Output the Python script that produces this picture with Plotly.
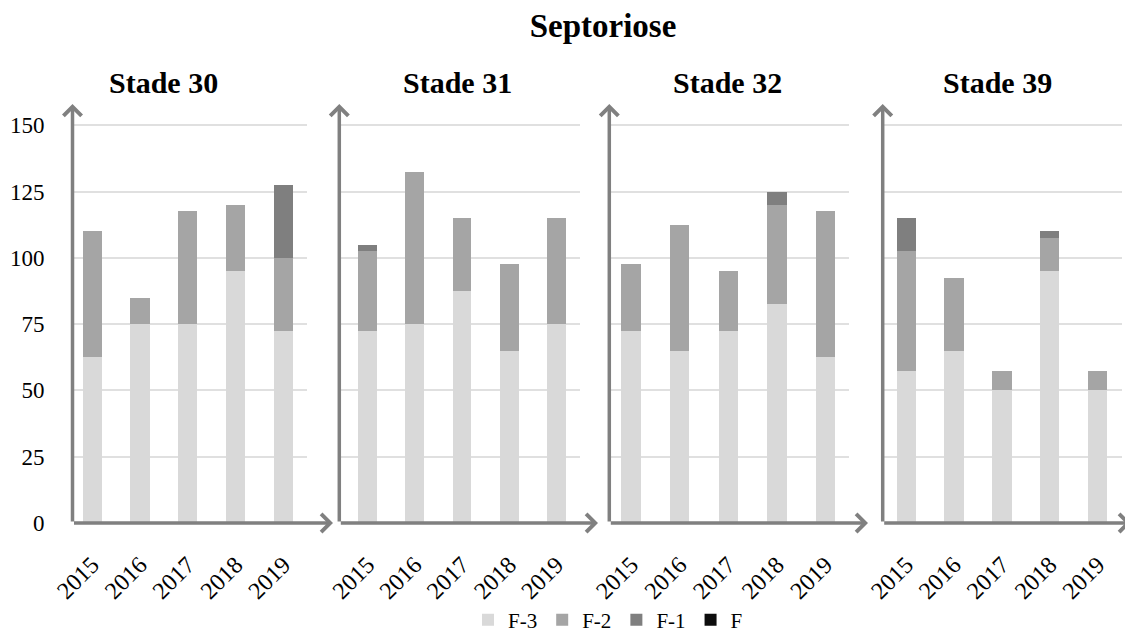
import plotly.graph_objects as go
from plotly.subplots import make_subplots

years = ["2015", "2016", "2017", "2018", "2019"]
stades = ["Stade 30", "Stade 31", "Stade 32", "Stade 39"]
series = ["F-3", "F-2", "F-1", "F"]

# valeurs par stade (empilées)
f3 = {
    "Stade 30": [62.5, 75, 75, 95, 72.5],
    "Stade 31": [72.5, 75, 87.5, 65, 75],
    "Stade 32": [72.5, 65, 72.5, 82.5, 62.5],
    "Stade 39": [57.5, 65, 50, 95, 50],
}
f2 = {
    "Stade 30": [47.5, 10, 42.5, 25, 27.5],
    "Stade 31": [30, 57.5, 27.5, 32.5, 40],
    "Stade 32": [25, 47.5, 22.5, 37.5, 55],
    "Stade 39": [45, 27.5, 7.5, 12.5, 7.5],
}
f1 = {
    "Stade 30": [0, 0, 0, 0, 27.5],
    "Stade 31": [2.5, 0, 0, 0, 0],
    "Stade 32": [0, 0, 0, 5, 0],
    "Stade 39": [12.5, 0, 0, 2.5, 0],
}
f0 = {
    "Stade 30": [0, 0, 0, 0, 0],
    "Stade 31": [0, 0, 0, 0, 0],
    "Stade 32": [0, 0, 0, 0, 0],
    "Stade 39": [0, 0, 0, 0, 0],
}
data = {"F-3": f3, "F-2": f2, "F-1": f1, "F": f0}
colors = {"F-3": "#d9d9d9", "F-2": "#a5a5a5", "F-1": "#7f7f7f", "F": "#0d0d0d"}

# la page html ajoute une marge de 8 px autour du graphique
OFF = 8
W, H = 1133 - OFF, 636 - OFF
TOP, BOT = 104 - OFF, 523 - OFF
FONT = "Liberation Serif, Times New Roman, serif"
AXCOL = "#808080"

# panneaux : bords du domaine (px), plage x, pointe de la flèche x (px), centre du titre (px)
panels = [
    (72.5, 307.4, -0.41, 4.5, 333, 163),
    (339.3, 580.0, -0.60, 4.5, 598, 457),
    (609.3, 849.3, -0.45, 4.49, 868, 727),
    (882.7, 1121.7, -0.49, 4.5, 1131, 997),
]

fig = make_subplots(rows=1, cols=4)

for i, st in enumerate(stades):
    for s in series:
        fig.add_trace(
            go.Bar(
                x=years,
                y=data[s][st],
                name=s,
                marker=dict(color=colors[s], line=dict(width=0)),
                showlegend=(i == 0),
                legendgroup=s,
            ),
            row=1,
            col=i + 1,
        )

fig.update_layout(
    barmode="stack",
    bargap=0.6,
    width=W,
    height=H,
    template="none",
    plot_bgcolor="white",
    paper_bgcolor="white",
    margin=dict(l=0, r=0, t=TOP, b=H - BOT, autoexpand=False),
    font=dict(family=FONT, size=23, color="black"),
    title=dict(
        text="<b>Septoriose</b>",
        x=(603 - OFF) / W,
        xanchor="center",
        y=1 - (25 - OFF) / H,
        yanchor="middle",
        font=dict(family=FONT, size=33, color="black"),
    ),
    legend=dict(
        orientation="h",
        x=(608 - OFF) / W,
        xanchor="center",
        yref="container",
        y=1 - (620 - OFF) / H,
        yanchor="middle",
        font=dict(family=FONT, size=21),
        itemwidth=30,
        traceorder="normal",
    ),
)

annotations = []
for i, (d0, d1, r0, r1, tip, tcx) in enumerate(panels):
    d0, d1, tip, tcx = d0 - OFF, d1 - OFF, tip - OFF, tcx - OFF
    xa = "xaxis" if i == 0 else f"xaxis{i + 1}"
    ya = "yaxis" if i == 0 else f"yaxis{i + 1}"
    fig.layout[xa].update(
        domain=[d0 / W, d1 / W],
        range=[r0, r1],
        type="category",
        automargin=False,
        showgrid=False,
        showline=False,
        zeroline=False,
        ticks="",
        tickangle=-45,
        ticklabelstandoff=22,
        tickfont=dict(family=FONT, size=24),
    )
    fig.layout[ya].update(
        range=[0, 158],
        dtick=25,
        automargin=False,
        showgrid=True,
        gridcolor="#e0e0e0",
        gridwidth=1.5,
        zeroline=False,
        showline=False,
        ticks="",
        showticklabels=(i == 0),
        ticklabelstandoff=27,
        tickfont=dict(family=FONT, size=23),
    )
    xr = "x" if i == 0 else f"x{i + 1}"
    yr = "y" if i == 0 else f"y{i + 1}"
    # axe x avec flèche
    annotations.append(
        dict(
            x=(tip - d0) / (d1 - d0), y=0,
            ax=0, ay=0,
            xref=f"{xr} domain", yref=f"{yr} domain",
            axref=f"{xr} domain", ayref=f"{yr} domain",
            text="", showarrow=True,
            arrowhead=4, arrowsize=1, arrowwidth=3.5, arrowcolor=AXCOL,
        )
    )
    # axe y avec flèche
    annotations.append(
        dict(
            x=0, y=1,
            ax=0, ay=0,
            xref=f"{xr} domain", yref=f"{yr} domain",
            axref=f"{xr} domain", ayref=f"{yr} domain",
            text="", showarrow=True,
            arrowhead=4, arrowsize=1, arrowwidth=3.5, arrowcolor=AXCOL,
        )
    )
    # titre du stade
    annotations.append(
        dict(
            x=tcx / W, y=(BOT - (83 - OFF)) / (BOT - TOP),
            xref="paper", yref="paper",
            xanchor="center", yanchor="middle",
            text=f"<b>{stades[i]}</b>", showarrow=False,
            font=dict(family=FONT, size=30, color="black"),
        )
    )

fig.update_layout(annotations=annotations)

fig.write_html("out.html")
